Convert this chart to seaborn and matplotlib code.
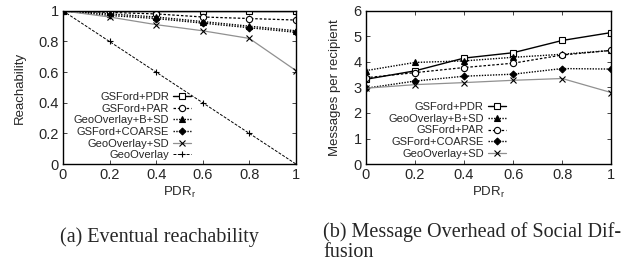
import numpy as np
import pandas as pd
import seaborn as sns
import matplotlib.pyplot as plt

pdr = [0, 0.2, 0.4, 0.6, 0.8, 1.0]

# (a) eventual reachability
reach_pdr = [1, 1, 1, 1, 1, 1]
reach_par = [1, 0.99, 0.98, 0.96, 0.95, 0.94]
reach_bsd = [1, 0.98, 0.96, 0.93, 0.90, 0.87]
reach_coarse = [1, 0.97, 0.95, 0.92, 0.89, 0.86]
reach_sd = [1, 0.96, 0.91, 0.87, 0.82, 0.61]
reach_geo = [1, 0.8, 0.6, 0.4, 0.2, 0.0]

# (b) messages per recipient
msg_pdr = [3.32, 3.65, 4.15, 4.36, 4.84, 5.15]
msg_bsd = [3.66, 3.98, 4.04, 4.18, 4.30, 4.45]
msg_par = [3.38, 3.58, 3.78, 3.95, 4.27, 4.45]
msg_coarse = [2.97, 3.25, 3.44, 3.52, 3.74, 3.72]
msg_sd = [2.97, 3.11, 3.19, 3.28, 3.35, 2.80]

styles = {
    'GSFord+PDR': dict(color='black', ls='-', marker='s', mfc='white', lw=1.0),
    'GSFord+PAR': dict(color='black', ls=(0, (2, 1.5)), marker='o', mfc='white', lw=0.9),
    'GeoOverlay+B+SD': dict(color='black', ls=(0, (1, 1)), marker='^', mfc='black', lw=1.0),
    'GSFord+COARSE': dict(color='black', ls=(0, (1, 1)), marker='D', mfc='black', lw=1.0),
    'GeoOverlay+SD': dict(color='#909090', ls='-', marker='x', mfc='black', lw=0.9),
    'GeoOverlay': dict(color='black', ls=(0, (3, 1.5)), marker='+', mfc='black', lw=0.7),
}

sns.set_style('ticks')
plt.rcParams['font.family'] = ['Liberation Sans', 'DejaVu Sans']
plt.rcParams['font.size'] = 9.5

fig = plt.figure(figsize=(6.42, 2.65), dpi=100)
ax1 = fig.add_axes([0.098, 0.381, 0.363, 0.578])
ax2 = fig.add_axes([0.570, 0.381, 0.382, 0.578])


def draw(ax, series):
    for name, vals in series:
        st = styles[name]
        df = pd.DataFrame({'x': pdr, 'y': vals})
        mk = st['marker']
        ms = 5 if mk in ('x', '+') else 4.5
        if mk == 'D':
            ms = 3.5
        sns.lineplot(data=df, x='x', y='y', ax=ax, color=st['color'], linestyle=st['ls'],
                     lw=st['lw'], marker=mk, markersize=ms, markerfacecolor=st['mfc'],
                     markeredgecolor='black', markeredgewidth=0.8, label=name)


draw(ax1, [('GSFord+PDR', reach_pdr), ('GSFord+PAR', reach_par),
           ('GeoOverlay+B+SD', reach_bsd), ('GSFord+COARSE', reach_coarse),
           ('GeoOverlay+SD', reach_sd), ('GeoOverlay', reach_geo)])
draw(ax2, [('GSFord+PDR', msg_pdr), ('GeoOverlay+B+SD', msg_bsd),
           ('GSFord+PAR', msg_par), ('GSFord+COARSE', msg_coarse),
           ('GeoOverlay+SD', msg_sd)])

ax1.set_xlim(0, 1)
ax1.set_ylim(0, 1)
ax1.set_xticks(pdr)
ax1.set_xticklabels(['0', '0.2', '0.4', '0.6', '0.8', '1'])
ax1.set_yticks([0, 0.2, 0.4, 0.6, 0.8, 1])
ax1.set_yticklabels(['0', '0.2', '0.4', '0.6', '0.8', '1'])
ax1.set_ylabel('Reachability', labelpad=9)

ax2.set_xlim(0, 1)
ax2.set_ylim(0, 6)
ax2.set_xticks(pdr)
ax2.set_xticklabels(['0', '0.2', '0.4', '0.6', '0.8', '1'])
ax2.set_yticks(range(7))
ax2.set_ylabel('Messages per recipient', labelpad=9)

for ax in (ax1, ax2):
    ax.set_xlabel('PDR$_\\mathregular{r}$', labelpad=2)
    ax.tick_params(direction='in', length=3, width=0.6, top=True, right=True, pad=3,
                   labelsize=10.5)
    for s in ax.spines.values():
        s.set_linewidth(1.0)
        s.set_color('black')

leg_kw = dict(frameon=False, markerfirst=False, handlelength=1.6, handletextpad=0.4,
              labelspacing=0.15, borderaxespad=0.0, borderpad=0.2, fontsize=8, alignment='right')
ax1.legend(loc='lower right', bbox_to_anchor=(0.56, 0.01), **leg_kw)
ax2.legend(loc='lower right', bbox_to_anchor=(0.58, 0.02), **leg_kw)
for leg in (ax1.get_legend(), ax2.get_legend()):
    for t in leg.get_texts():
        t.set_ha('right')
    leg._legend_box.align = 'right'

fig.text(0.094, 0.085, '(a) Eventual reachability', family='Liberation Serif', fontsize=14.5,
         ha='left', va='baseline')
fig.text(0.503, 0.106, '(b) Message Overhead of Social Dif-', family='Liberation Serif',
         fontsize=14.5, ha='left', va='baseline')
fig.text(0.503, 0.030, 'fusion', family='Liberation Serif', fontsize=14.5, ha='left', va='baseline')

fig.savefig('out.png', dpi=100)
